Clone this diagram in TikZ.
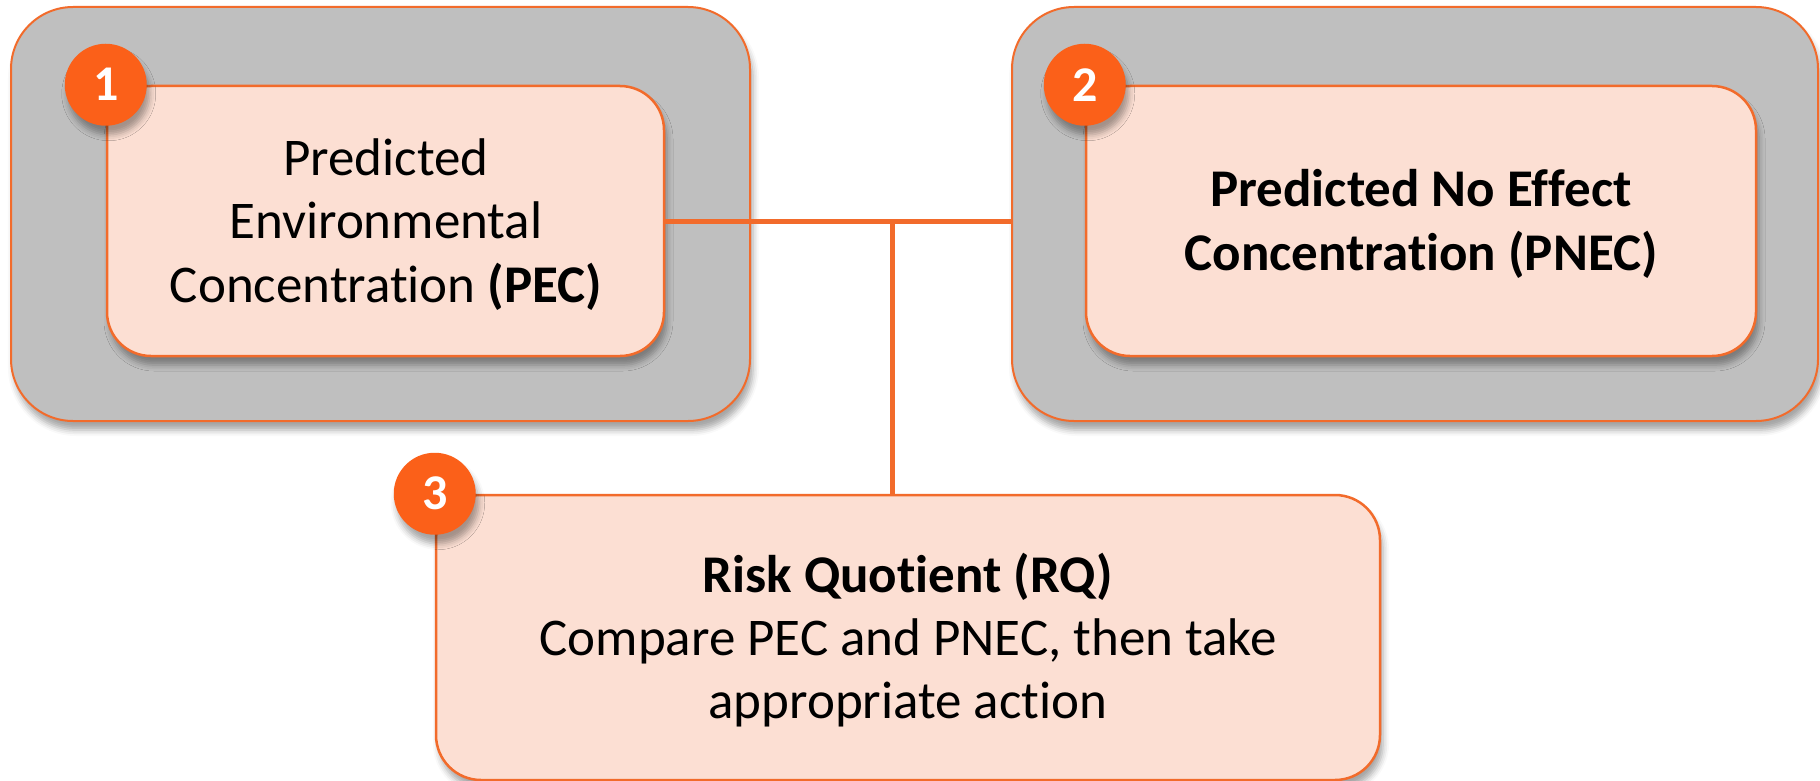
\documentclass[tikz,border=0pt]{standalone}
\usepackage{fontspec}
\setmainfont{Carlito}[Ligatures=NoCommon]
\usetikzlibrary{shadows.blur}
\definecolor{rim}{HTML}{F26B2B}
\definecolor{slab}{HTML}{BFBFBF}
\definecolor{peach}{HTML}{FCDFD3}
\definecolor{badgeorange}{HTML}{FB6019}
\begin{document}
\begin{tikzpicture}[x=1pt,y=-1pt,
  softshadow/.style={blur shadow={shadow xshift=3pt, shadow yshift=-9pt, shadow blur radius=6pt, shadow opacity=35}},
  panel/.style={draw=rim, line width=2pt, fill=slab, rounded corners=62pt, inner sep=0pt, softshadow},
  card/.style={draw=rim, line width=2.5pt, fill=peach, rounded corners=44pt, inner sep=0pt, softshadow},
  badge/.style={circle, fill=badgeorange, minimum size=82pt, inner sep=0pt, text=white,
    font=\fontsize{50}{50}\selectfont\bfseries, softshadow},
  caption/.style={align=center, font=\fontsize{53}{63.5}\selectfont, inner sep=0pt, anchor=base},
  link/.style={draw=rim, line width=5pt}]
\useasboundingbox (0,0) rectangle (1820,781);

% grey frames
\node[panel, minimum width=739pt, minimum height=414pt] (out1) at (380.5,214) {};
\node[panel, minimum width=806pt, minimum height=414pt] (out2) at (1415,214) {};

% peach cards
\node[card, minimum width=557pt, minimum height=270pt] (in1) at (385.5,221) {};
\node[card, minimum width=670pt, minimum height=270pt] (in2) at (1421,221) {};
\node[card, rounded corners=45pt, minimum width=944pt, minimum height=285pt] (in3) at (908,637.5) {};

% card texts (anchored on the baseline of the last line)
\node[caption] (t1) at (386,302) {Predicted\\Environmental\\Concentration \textbf{(PEC)}};
\node[caption, font=\fontsize{53}{64}\selectfont\bfseries] (t2) at (1421,270) {Predicted No Effect\\Concentration (PNEC)};
\node[caption, font=\fontsize{53}{63}\selectfont] (t3) at (908,718) {\textbf{Risk Quotient (RQ)}\\Compare PEC and PNEC, then take\\appropriate action};

% connectors
\coordinate (j) at (892,221);
\draw[link] (in1.east) -- (j) -- (j -| out2.west);
\draw[link] (j) -- (j |- in3.north);

% numbered badges
\node[badge] (b1) at (in1.north west) {1};
\node[badge] (b2) at (in2.north west) {2};
\node[badge] (b3) at (in3.north west) {3};
\end{tikzpicture}
\end{document}
